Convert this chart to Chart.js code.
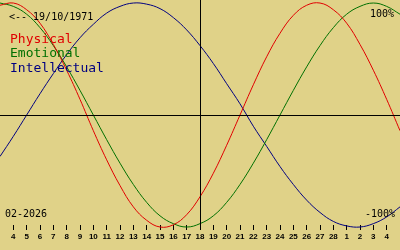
<!DOCTYPE html>
<html>
<head>
<meta charset="utf-8">
<script src="https://cdn.jsdelivr.net/npm/chart.js@4.4.0/dist/chart.umd.min.js"></script>
<style>
  html, body { margin: 0; padding: 0; background: #e0d288; }
  #wrap { position: relative; width: 400px; height: 250px; }
</style>
</head>
<body>
<div id="wrap"><canvas id="chart" width="400" height="250"></canvas></div>
<script>
// days shown: Feb 3 .. Mar 5 2026 (centre line on the 18th)
const dayLabels = ['3','4','5','6','7','8','9','10','11','12','13','14','15','16','17','18',
                   '19','20','21','22','23','24','25','26','27','28','1','2','3','4','5'];
const physical = [0.98, 1.0, 0.94, 0.82, 0.63, 0.40, 0.14, -0.14, -0.40, -0.63, -0.82, -0.94, -1.0, -0.98, -0.89, -0.73,
                  -0.52, -0.27, 0, 0.27, 0.52, 0.73, 0.89, 0.98, 1.0, 0.94, 0.82, 0.63, 0.40, 0.14, -0.14];
const emotional = [1.0, 0.97, 0.90, 0.78, 0.62, 0.43, 0.22, 0, -0.22, -0.43, -0.62, -0.78, -0.90, -0.97, -1.0, -0.97,
                   -0.90, -0.78, -0.62, -0.43, -0.22, 0, 0.22, 0.43, 0.62, 0.78, 0.90, 0.97, 1.0, 0.97, 0.90];
const intellectual = [-0.37, -0.19, 0, 0.19, 0.37, 0.54, 0.69, 0.81, 0.91, 0.97, 1.0, 0.99, 0.95, 0.87, 0.76, 0.62,
                      0.46, 0.28, 0.10, -0.10, -0.28, -0.46, -0.62, -0.76, -0.87, -0.95, -0.99, -1.0, -0.97, -0.91, -0.82];
const tickIdx = [1,2,3,4,5,6,7,8,9,10,11,12,13,14,15,16,17,18,19,20,21,22,23,24,25,26,27,28,29];
const centreIdx = 15;

function pts(arr) {
    return arr.map((v, i) => ({ x: i, y: v }));
}

const axesAndText = {
    id: 'axesAndText',
    afterDatasetsDraw(chart) {
        const c = chart.ctx;
        const xs = chart.scales.x, ys = chart.scales.y;
        const y0 = Math.round(ys.getPixelForValue(0)) + 0.5;
        const xc = Math.round(xs.getPixelForValue(centreIdx)) + 0.5;
        c.save();
        c.strokeStyle = '#000';
        c.lineWidth = 1;
        c.beginPath();
        c.moveTo(0, y0); c.lineTo(400, y0);
        c.moveTo(xc, 0); c.lineTo(xc, 230);
        c.stroke();

        c.textBaseline = 'alphabetic';
        c.fillStyle = '#000';
        c.font = '10px "DejaVu Sans Mono"';
        c.textAlign = 'left';
        c.fillText('<-- 19/10/1971', 9, 20);
        c.fillText('02-2026', 5, 217);
        c.textAlign = 'right';
        c.fillText('100%', 394, 17);
        c.fillText('-100%', 395, 217);

        c.textAlign = 'left';
        c.font = '13px "DejaVu Sans Mono"';
        c.fillStyle = '#e00000';
        c.fillText('Physical', 10, 43);
        c.fillStyle = '#007000';
        c.fillText('Emotional', 10, 57);
        c.fillStyle = '#000080';
        c.fillText('Intellectual', 10, 72);
        c.restore();
    }
};

new Chart(document.getElementById('chart').getContext('2d'), {
    type: 'line',
    data: {
        datasets: [
            { label: 'Physical', data: pts(physical), borderColor: '#e00000' },
            { label: 'Emotional', data: pts(emotional), borderColor: '#007000' },
            { label: 'Intellectual', data: pts(intellectual), borderColor: '#000080' }
        ]
    },
    options: {
        responsive: false,
        animation: false,
        layout: { padding: 0 },
        datasets: {
            line: { borderWidth: 1, pointRadius: 0, tension: 0.4, fill: false, clip: false }
        },
        plugins: { legend: { display: false }, tooltip: { enabled: false } },
        scales: {
            x: {
                type: 'linear',
                min: 0,
                max: 30,
                afterBuildTicks(scale) {
                    scale.ticks = tickIdx.map(v => ({ value: v }));
                },
                afterFit(scale) { scale.height = 25; },
                border: { display: false },
                grid: { drawOnChartArea: false, drawTicks: true, tickLength: 5, tickColor: '#000', tickWidth: 1 },
                ticks: {
                    autoSkip: false,
                    maxRotation: 0,
                    padding: 2,
                    color: '#000',
                    font: { family: 'Liberation Sans', size: 8, weight: 'bold' },
                    callback: (v) => dayLabels[v]
                }
            },
            y: {
                display: false,
                min: -0.982,
                max: 1.027
            }
        }
    },
    plugins: [axesAndText]
});
</script>
</body>
</html>
